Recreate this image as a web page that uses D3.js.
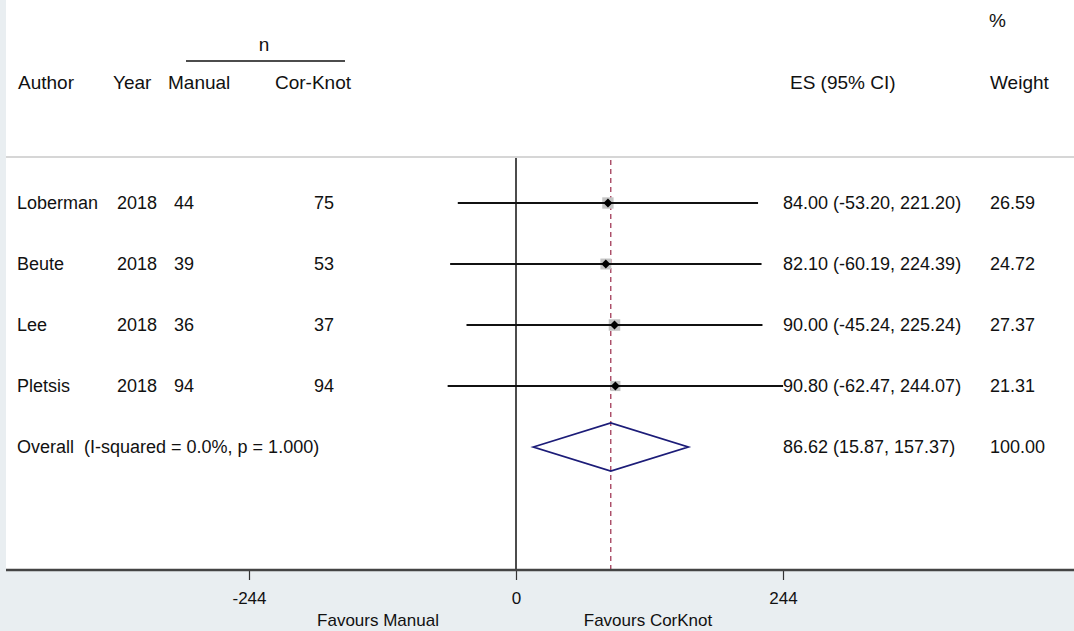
<!DOCTYPE html>
<html>
<head>
<meta charset="utf-8">
<script src="https://cdn.jsdelivr.net/npm/d3@7"></script>
<style>
  body { margin: 0; background: #e9eef1; }
  svg { display: block; font-family: "Liberation Sans", Arial, sans-serif; }
  text { white-space: pre; }
</style>
</head>
<body>
<svg id="graph" width="1074" height="631"></svg>
<script>
// study rows
var authors = ['Loberman', 'Beute', 'Lee', 'Pletsis'];
var years = ['2018', '2018', '2018', '2018'];
var nManual = [44, 39, 36, 94];
var nCorKnot = [75, 53, 37, 94];
var es = [84.00, 82.10, 90.00, 90.80];
var lo = [-53.20, -60.19, -45.24, -62.47];
var hi = [221.20, 224.39, 225.24, 244.07];
var weights = [26.59, 24.72, 27.37, 21.31];

// pooled
var overall = { es: 86.62, lo: 15.87, hi: 157.37, weight: 100.00 };
var overallLabel = 'Overall  (I-squared = 0.0%, p = 1.000)';

var xTicks = [-244, 0, 244];

var W = 1074, H = 631;
var svg = d3.select('#graph');
var fs = 18;

// white panel
svg.append('rect').attr('x', 6).attr('y', 0).attr('width', W - 6).attr('height', 570).attr('fill', '#fff');

var xScale = d3.scaleLinear().domain([-244, 244]).range([249, 783]);
var yScale = d3.scaleLinear().domain([0, 4]).range([203, 447]);

var yTop = 157, yBottom = 570;

// header separator
svg.append('line').attr('x1', 6).attr('x2', W).attr('y1', yTop).attr('y2', yTop)
    .attr('stroke', '#d6d6d6').attr('stroke-width', 2);

function txt(x, y, s, anchor, size){
    return svg.append('text').attr('x', x).attr('y', y).attr('font-size', size || fs)
        .attr('fill', '#111').attr('text-anchor', anchor || 'start').text(s);
}

// headers
txt(264, 51, 'n', 'middle', 19);
svg.append('line').attr('x1', 186).attr('x2', 345).attr('y1', 61).attr('y2', 61)
    .attr('stroke', '#111').attr('stroke-width', 1.5);
txt(18, 89, 'Author', null, 19);
txt(113, 89, 'Year', null, 19);
txt(168, 89, 'Manual', null, 19);
txt(275, 89, 'Cor-Knot', null, 19);
txt(790, 89, 'ES (95% CI)', null, 19);
txt(989, 27, '%', null, 19);
txt(990, 89, 'Weight', null, 19);

// zero line and pooled estimate line
svg.append('line').attr('x1', xScale(0)).attr('x2', xScale(0)).attr('y1', yTop + 1).attr('y2', yBottom)
    .attr('stroke', '#111').attr('stroke-width', 1.5);
svg.append('line').attr('x1', xScale(overall.es)).attr('x2', xScale(overall.es)).attr('y1', yTop + 3).attr('y2', yBottom)
    .attr('stroke', '#9a2a4a').attr('stroke-width', 1.2).attr('stroke-dasharray', '5,4');

var f2 = d3.format('.2f');
function fmt(v){ return f2(v).replace('\u2212', '-'); }

authors.forEach(function(a, i){
    var y = yScale(i);
    txt(17, y + 6, a);
    txt(117, y + 6, years[i]);
    txt(174, y + 6, nManual[i]);
    txt(334, y + 6, nCorKnot[i], 'end');
    txt(783, y + 6, fmt(es[i]) + ' (' + fmt(lo[i]) + ', ' + fmt(hi[i]) + ')');
    txt(990, y + 6, fmt(weights[i]));

    var s = Math.sqrt(weights[i]) * 2.2;
    svg.append('rect').attr('x', xScale(es[i]) - s / 2).attr('y', y - s / 2)
        .attr('width', s).attr('height', s).attr('fill', '#c4c4c4');
    svg.append('line').attr('x1', xScale(lo[i])).attr('x2', xScale(hi[i])).attr('y1', y).attr('y2', y)
        .attr('stroke', '#111').attr('stroke-width', 2);
    var xc = xScale(es[i]);
    svg.append('path').attr('d', 'M' + (xc - 4.5) + ',' + y + 'L' + xc + ',' + (y - 4.5) + 'L' + (xc + 4.5) + ',' + y + 'L' + xc + ',' + (y + 4.5) + 'Z')
        .attr('fill', '#000');
});

// overall row
var yo = yScale(4);
txt(17, yo + 6, overallLabel);
txt(783, yo + 6, fmt(overall.es) + ' (' + fmt(overall.lo) + ', ' + fmt(overall.hi) + ')');
txt(990, yo + 6, fmt(overall.weight));
svg.append('path')
    .attr('d', 'M' + xScale(overall.lo) + ',' + yo + 'L' + xScale(overall.es) + ',' + (yo - 24) +
        'L' + xScale(overall.hi) + ',' + yo + 'L' + xScale(overall.es) + ',' + (yo + 24) + 'Z')
    .attr('fill', 'none').attr('stroke', '#1c1c78').attr('stroke-width', 1.8);

// x axis
var axis = svg.append('g').attr('transform', 'translate(0,' + yBottom + ')')
    .call(d3.axisBottom(xScale).tickValues(xTicks).tickSize(10).tickPadding(12).tickFormat(function(d){ return String(d); }));
axis.select('.domain').remove();
axis.selectAll('.tick line').attr('stroke', '#333').attr('stroke-width', 1.2);
axis.selectAll('.tick text').attr('font-size', 17).attr('fill', '#111')
    .attr('font-family', '"Liberation Sans", Arial, sans-serif');
svg.append('line').attr('x1', 6).attr('x2', W).attr('y1', yBottom).attr('y2', yBottom)
    .attr('stroke', '#444').attr('stroke-width', 2.5);

svg.append('text').attr('x', 378).attr('y', 626).attr('font-size', 17).attr('text-anchor', 'middle')
    .attr('fill', '#111').text('Favours Manual');
svg.append('text').attr('x', 648).attr('y', 626).attr('font-size', 17).attr('text-anchor', 'middle')
    .attr('fill', '#111').text('Favours CorKnot');
</script>
</body>
</html>
